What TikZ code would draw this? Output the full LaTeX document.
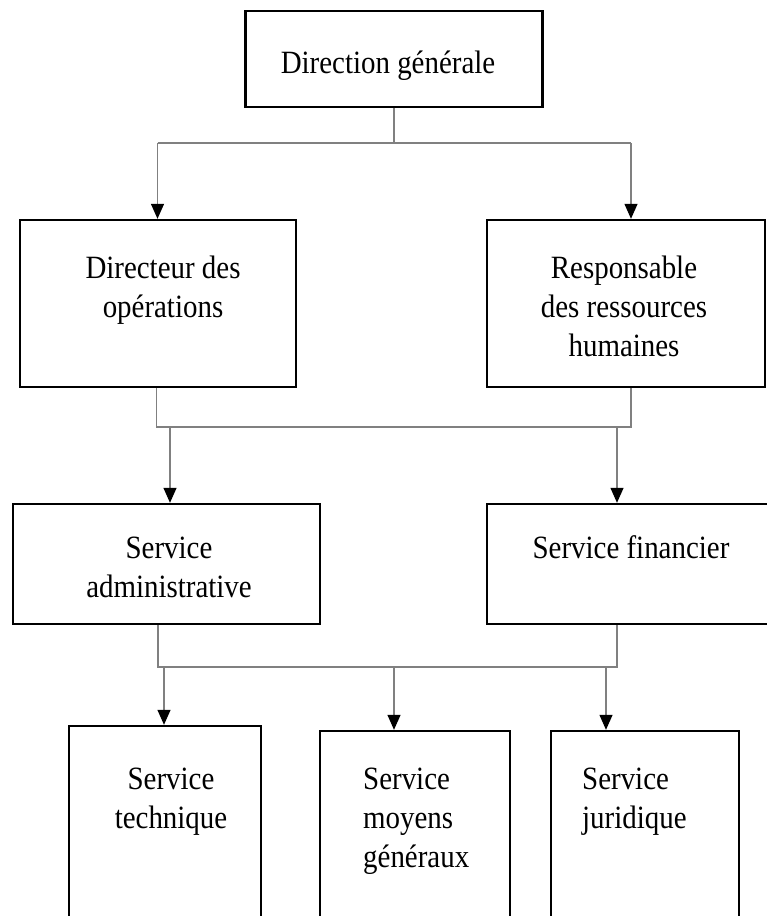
\documentclass[tikz,border=0pt]{standalone}
\usepackage{fontspec}
\setmainfont{Liberation Serif}[FakeStretch=0.89]
\usetikzlibrary{arrows.meta}
\begin{document}
\begin{tikzpicture}[x=1pt,y=-1pt,
  box/.style={draw=black, line width=2.4pt, fill=white, inner sep=0pt},
  txt/.style={inner sep=0pt, font=\fontsize{32.5}{39}\selectfont},
  link/.style={draw=black!50, line width=1.3pt},
  arr/.style={link, -{Triangle[length=15pt,width=13pt,black]}}]
\useasboundingbox (0,0) rectangle (767,916);
\clip (0,0) rectangle (767,916);
\fill[white] (0,0) rectangle (767,916);

% boxes
\node[box, minimum width=297pt, minimum height=96pt] (dg)  at (394,59) {};
\node[box, minimum width=276pt, minimum height=167pt] (dir) at (158,303.5) {};
\node[box, minimum width=278pt, minimum height=167pt] (rh)  at (626,303.5) {};
\node[box, minimum width=307pt, minimum height=120pt] (adm) at (166.5,564) {};
\node[box, minimum width=290pt, minimum height=120pt] (fin) at (632,564) {};
\node[box, minimum width=192pt, minimum height=200pt] (tech) at (165,826) {};
\node[box, minimum width=190pt, minimum height=196pt] (moy)  at (415,829) {};
\node[box, minimum width=188pt, minimum height=196pt] (jur)  at (645,829) {};

% labels (base anchor sits on the last line's baseline)
\node[txt, anchor=base] (dgt) at (388,73) {Direction générale};
\node[txt, anchor=base, align=center] (dirt) at (163,317) {Directeur des\\opérations};
\node[txt, anchor=base, align=center] (rht) at (624,356) {Responsable\\des ressources\\humaines};
\node[txt, anchor=base, align=center] (admt) at (169,597) {Service\\administrative};
\node[txt, anchor=base] (fint) at (631,558) {Service financier};
\node[txt, anchor=base, align=center] (techt) at (171,828) {Service\\technique};
\node[txt, anchor=base west, align=left] (moyt) at (363,867) {Service\\moyens\\généraux};
\node[txt, anchor=base west, align=left] (jurt) at (582,828) {Service\\juridique};

% level 1
\coordinate (j1) at (394,143);
\coordinate (b1L) at (157.5,143);
\coordinate (b1R) at (631,143);
\draw[link] (dg.south) -- (j1);
\draw[link] (b1L) -- (b1R);
\draw[arr] (b1L) -- (b1L |- dir.north);
\draw[arr] (b1R) -- (b1R |- rh.north);

% level 2
\coordinate (b2L) at (156.5,427);
\coordinate (b2R) at (631,427);
\coordinate (a2L) at (170,427);
\coordinate (a2R) at (617,427);
\draw[link] (b2L |- dir.south) -- (b2L) -- (b2R) -- (b2R |- rh.south);
\draw[arr] (a2L) -- (a2L |- adm.north);
\draw[arr] (a2R) -- (a2R |- fin.north);

% level 3
\coordinate (b3L) at (158,667);
\coordinate (b3R) at (617,667);
\coordinate (a3L) at (164,667);
\coordinate (a3M) at (394,667);
\coordinate (a3R) at (606,667);
\draw[link] (b3L |- adm.south) -- (b3L) -- (b3R) -- (b3R |- fin.south);
\draw[arr] (a3L) -- (a3L |- tech.north);
\draw[arr] (a3M) -- (a3M |- moy.north);
\draw[arr] (a3R) -- (a3R |- jur.north);
\end{tikzpicture}
\end{document}
